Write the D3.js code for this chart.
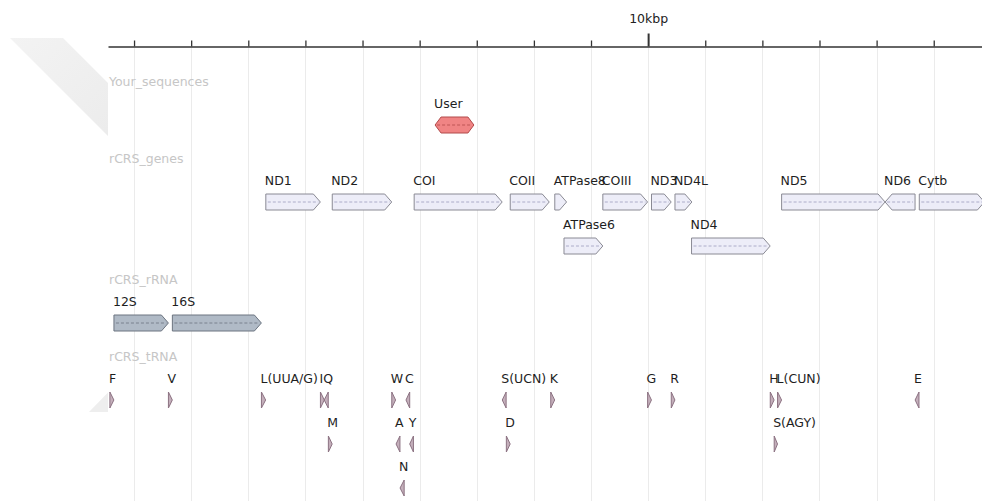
<!DOCTYPE html>
<html>
<head>
<meta charset="utf-8">
<script src="https://cdn.jsdelivr.net/npm/d3@7"></script>
<style>
  html, body { margin: 0; padding: 0; background: #fff; }
  svg { display: block; font-family: "DejaVu Sans", sans-serif; }
</style>
</head>
<body>
<svg id="chart" width="982" height="501"></svg>
<script>
// Axis ticks (bp) and their labels
const tickValues = [1000, 2000, 3000, 4000, 5000, 6000, 7000, 8000, 9000, 10000, 11000, 12000, 13000, 14000, 15000];
const tickLabels = ["", "", "", "", "", "", "", "", "", "10kbp", "", "", "", "", ""];

// Track names, top to bottom
const trackNames = ["Your_sequences", "rCRS_genes", "rCRS_rRNA", "rCRS_tRNA"];

// Your_sequences
const userNames  = ["User"];
const userStarts = [6270];
const userEnds   = [6950];
const userStrand = [0];
const userLanes  = [0];

// rCRS protein-coding genes
const geneNames  = ["ND1", "ND2", "COI", "COII", "ATPase8", "ATPase6", "COIII", "ND3", "ND4L", "ND4", "ND5", "ND6", "Cytb"];
const geneStarts = [3307, 4470, 5904, 7586, 8366, 8527, 9207, 10059, 10470, 10760, 12337, 14149, 14747];
const geneEnds   = [4262, 5511, 7445, 8269, 8572, 9207, 9990, 10404, 10766, 12137, 14148, 14673, 15887];
const geneStrand = [1, 1, 1, 1, 1, 1, 1, 1, 1, 1, 1, -1, 1];
const geneLanes  = [0, 0, 0, 0, 0, 1, 0, 0, 0, 1, 0, 0, 0];

// rCRS ribosomal RNAs
const rrnaNames  = ["12S", "16S"];
const rrnaStarts = [648, 1671];
const rrnaEnds   = [1601, 3229];
const rrnaStrand = [1, 1];
const rrnaLanes  = [0, 0];

// rCRS transfer RNAs
const trnaNames  = ["F", "V", "L(UUA/G)", "I", "Q", "M", "W", "A", "N", "C", "Y", "S(UCN)", "D", "K", "G", "R", "H", "S(AGY)", "L(CUN)", "E"];
const trnaStarts = [577, 1602, 3230, 4263, 4329, 4402, 5512, 5587, 5657, 5761, 5826, 7446, 7518, 8295, 9991, 10405, 12138, 12207, 12266, 14674];
const trnaEnds   = [647, 1670, 3304, 4331, 4400, 4469, 5579, 5655, 5729, 5826, 5891, 7514, 7585, 8364, 10058, 10469, 12206, 12265, 12336, 14742];
const trnaStrand = [1, 1, 1, 1, -1, 1, 1, -1, -1, -1, -1, -1, 1, 1, 1, 1, 1, 1, 1, -1];
const trnaLanes  = [0, 0, 0, 0, 0, 1, 0, 1, 2, 0, 1, 0, 1, 0, 0, 0, 0, 1, 0, 0];

function zipFeatures(names, starts, ends, strands, lanes) {
  return names.map((n, i) => ({ name: n, start: starts[i], end: ends[i], strand: strands[i], lane: lanes[i] }));
}

const tracks = [
  { name: trackNames[0], feats: zipFeatures(userNames, userStarts, userEnds, userStrand, userLanes),
    fill: "#f08484", stroke: "#b24a4a", dash: "#b24a4a" },
  { name: trackNames[1], feats: zipFeatures(geneNames, geneStarts, geneEnds, geneStrand, geneLanes),
    fill: "#ededf8", stroke: "#8a8a94", dash: "#9c9cbc" },
  { name: trackNames[2], feats: zipFeatures(rrnaNames, rrnaStarts, rrnaEnds, rrnaStrand, rrnaLanes),
    fill: "#b0bac6", stroke: "#6c7480", dash: "#6c7480" },
  { name: trackNames[3], feats: zipFeatures(trnaNames, trnaStarts, trnaEnds, trnaStrand, trnaLanes),
    fill: "#c4afbb", stroke: "#8c7282", dash: "#8c7282" }
];

const W = 982, H = 501;
const left = 108;
const svg = d3.select("#chart");

const x = d3.scaleLinear().domain([544, 15845]).range([left, W]);

// faded navigation chevron behind the left margin
const defs = svg.append("defs");
defs.append("clipPath").attr("id", "marginClip")
  .append("rect").attr("x", 0).attr("y", 0).attr("width", left).attr("height", H);
const grad = defs.append("linearGradient").attr("id", "navFade")
  .attr("x1", 0).attr("y1", 0).attr("x2", 1).attr("y2", 1);
grad.append("stop").attr("offset", "0%").attr("stop-color", "#f3f3f3");
grad.append("stop").attr("offset", "100%").attr("stop-color", "#ebebeb");
const nav = svg.append("g").attr("clip-path", "url(#marginClip)");
nav.append("polygon")
  .attr("points", "10,38 63,38 120,95 120,148")
  .attr("fill", "url(#navFade)");
nav.append("polygon")
  .attr("points", "89,412 130,412 130,370")
  .attr("fill", "#eeeeee");

// grid lines
svg.append("g").selectAll("line").data(tickValues).join("line")
  .attr("x1", d => Math.round(x(d)) + 0.5).attr("x2", d => Math.round(x(d)) + 0.5)
  .attr("y1", 48).attr("y2", H)
  .attr("stroke", "#ebebeb").attr("stroke-width", 1);

// ruler
const axisY = 46.5;
const axis = d3.axisTop(x)
  .tickValues(tickValues)
  .tickSize(6)
  .tickSizeOuter(0)
  .tickFormat((d, i) => tickLabels[i]);
const ag = svg.append("g").attr("transform", `translate(0,${axisY})`).call(axis);
ag.select(".domain").attr("stroke", "#333").attr("stroke-width", 1.6);
ag.selectAll(".tick line").attr("stroke", "#333")
  .attr("y2", (d, i) => tickLabels[i] ? -13 : -6)
  .attr("stroke-width", (d, i) => tickLabels[i] ? 2 : 1.3);
ag.selectAll(".tick text")
  .attr("y", -24).attr("dy", 0)
  .attr("fill", "#222").attr("font-size", "12.5px")
  .attr("font-family", "DejaVu Sans, sans-serif");

// feature glyph path
function glyph(x0, x1, top, h, strand) {
  const w = x1 - x0, mid = top + h / 2, bot = top + h;
  if (strand === 0) {
    const hd = Math.min(6, w / 2);
    return `M${x0},${mid}L${x0 + hd},${top}L${x1 - hd},${top}L${x1},${mid}L${x1 - hd},${bot}L${x0 + hd},${bot}Z`;
  }
  const hd = Math.min(7, w);
  if (strand > 0) {
    return `M${x0},${top}L${x1 - hd},${top}L${x1},${mid}L${x1 - hd},${bot}L${x0},${bot}Z`;
  }
  return `M${x1},${top}L${x0 + hd},${top}L${x0},${mid}L${x0 + hd},${bot}L${x1},${bot}Z`;
}

const laneStep = 44, trackGap = 33, boxH = 16;
let trackY = 86;
tracks.forEach(t => {
  const g = svg.append("g");
  g.append("text")
    .attr("x", left + 1).attr("y", trackY)
    .attr("font-size", "12.5px").attr("fill", "#c6c6c6")
    .text(t.name);

  const fg = g.selectAll("g.feat").data(t.feats).join("g").attr("class", "feat");
  const ty = trackY;
  fg.append("path")
    .attr("d", d => glyph(x(d.start), x(d.end), ty + 31 + d.lane * laneStep, boxH, d.strand))
    .attr("fill", t.fill).attr("stroke", t.stroke).attr("stroke-width", 1)
    .attr("stroke-linejoin", "miter");
  fg.filter(d => x(d.end) - x(d.start) > 12).append("line")
    .attr("x1", d => x(d.start) + 2).attr("x2", d => x(d.end) - 2)
    .attr("y1", d => ty + 31 + d.lane * laneStep + boxH / 2)
    .attr("y2", d => ty + 31 + d.lane * laneStep + boxH / 2)
    .attr("stroke", t.dash).attr("stroke-width", 0.8).attr("stroke-dasharray", "3,2");
  fg.append("text")
    .attr("x", d => x(d.start) - 1)
    .attr("y", d => ty + 22 + d.lane * laneStep)
    .attr("font-size", "12.5px").attr("fill", "#1e1e1e")
    .text(d => d.name);

  const lanes = d3.max(t.feats, d => d.lane) + 1;
  trackY += lanes * laneStep + trackGap;
});
</script>
</body>
</html>
